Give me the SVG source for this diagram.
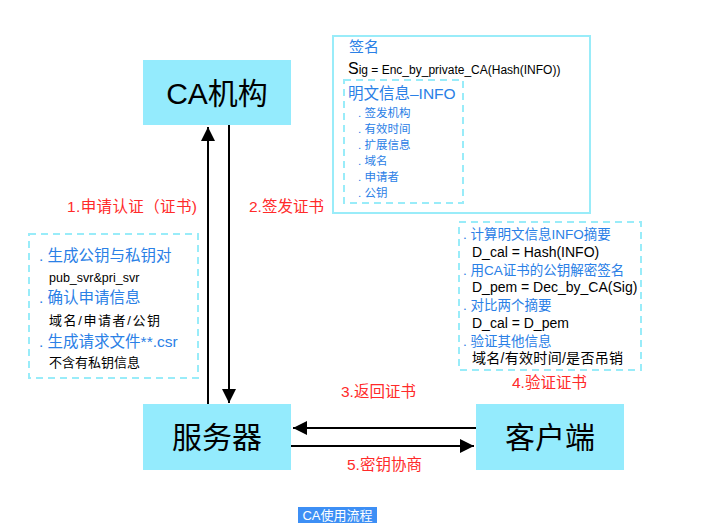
<svg xmlns="http://www.w3.org/2000/svg" width="701" height="529" viewBox="0 0 701 529">
<defs>
<marker id="ah" viewBox="0 0 10 10" refX="10" refY="5" markerWidth="7" markerHeight="7" orient="auto" markerUnits="strokeWidth">
<path d="M0,0 L10,5 L0,10 z" fill="#000"/>
</marker>
<style>
.node{fill:#94ebfd}
.nl{font-family:"Liberation Sans","Noto Sans CJK SC",sans-serif;font-size:30px;fill:#000;text-anchor:middle}
.red{font-family:"Liberation Sans","Noto Sans CJK SC",sans-serif;font-size:15.5px;fill:#ff2a2a}
.blue{font-family:"Liberation Sans","Noto Sans CJK SC",sans-serif;fill:#2a80e6}
.blk{font-family:"Liberation Sans","Noto Sans CJK SC",sans-serif;fill:#000}
.dash{fill:none;stroke:#99ecf9;stroke-width:2;stroke-dasharray:7,5}
.edge{stroke:#000;stroke-width:2;fill:none}
</style>
</defs>
<rect width="701" height="529" fill="#fff"/>

<g id="ca">
<rect class="node" x="143" y="60" width="148" height="65"/>
<text class="nl" x="217" y="104">CA机构</text>
</g>
<g id="server">
<rect class="node" x="143" y="404" width="148" height="66"/>
<text class="nl" x="217" y="448">服务器</text>
</g>
<g id="client">
<rect class="node" x="476" y="404" width="148" height="66"/>
<text class="nl" x="550" y="448">客户端</text>
</g>

<g id="connectors">
<line class="edge" x1="208" y1="404" x2="208" y2="127" marker-end="url(#ah)"/>
<line class="edge" x1="229" y1="125" x2="229" y2="403" marker-end="url(#ah)"/>
<line class="edge" x1="476" y1="428" x2="293" y2="428" marker-end="url(#ah)"/>
<line class="edge" x1="291" y1="446" x2="474" y2="446" marker-end="url(#ah)"/>
<text class="red" x="67" y="212" textLength="130" lengthAdjust="spacing">1.申请认证（证书)</text>
<text class="red" x="249" y="212">2.签发证书</text>
<text class="red" x="341" y="397">3.返回证书</text>
<text class="red" x="512" y="388">4.验证证书</text>
<text class="red" x="347" y="470">5.密钥协商</text>
</g>

<g id="signature">
<rect x="333" y="36" width="257" height="177" fill="none" stroke="#99ecf9" stroke-width="2"/>
<text class="blue" x="349" y="52" font-size="15">签名</text>
<text class="blk" x="348" y="74" font-size="12"><tspan font-size="16">S</tspan>ig = Enc_by_private_CA(Hash(INFO))</text>
<rect class="dash" x="344" y="80" width="119" height="123"/>
<text class="blue" x="348" y="99" font-size="15.5">明文信息–INFO</text>
<g class="blue" font-size="11.5">
<text x="358" y="117">. 签发机构</text>
<text x="358" y="133">. 有效时间</text>
<text x="358" y="149">. 扩展信息</text>
<text x="358" y="165">. 域名</text>
<text x="358" y="181">. 申请者</text>
<text x="358" y="197">. 公钥</text>
</g>
</g>

<g id="server-note">
<rect class="dash" x="29" y="234" width="169" height="144"/>
<text class="blue" x="39" y="261" font-size="15.5">. 生成公钥与私钥对</text>
<text class="blk" x="49" y="282" font-size="12.5">pub_svr&amp;pri_svr</text>
<text class="blue" x="39" y="303" font-size="15.5">. 确认申请信息</text>
<text class="blk" x="49" y="325" font-size="13" textLength="111" lengthAdjust="spacing">域名/申请者/公钥</text>
<text class="blue" x="39" y="347" font-size="15.5">. 生成请求文件**.csr</text>
<text class="blk" x="49" y="367" font-size="13">不含有私钥信息</text>
</g>

<g id="client-note">
<rect class="dash" x="459" y="222" width="182" height="148"/>
<g class="blue" font-size="13.5">
<text x="463" y="239">. 计算明文信息INFO摘要</text>
<text x="463" y="275">. 用CA证书的公钥解密签名</text>
<text x="463" y="310">. 对比两个摘要</text>
<text x="463" y="346">. 验证其他信息</text>
</g>
<g class="blk" font-size="14">
<text x="472" y="257">D_cal = Hash(INFO)</text>
<text x="472" y="292">D_pem = Dec_by_CA(Sig)</text>
<text x="472" y="328">D_cal = D_pem</text>
<text x="472" y="363" textLength="151" lengthAdjust="spacing">域名/有效时间/是否吊销</text>
</g>
</g>

<g id="caption">
<rect x="298" y="507" width="79" height="16" fill="#3d8ff5"/>
<text x="337.5" y="520" font-family="Liberation Sans,'Noto Sans CJK SC',sans-serif" font-size="13" fill="#fff" text-anchor="middle">CA使用流程</text>
</g>
</svg>
